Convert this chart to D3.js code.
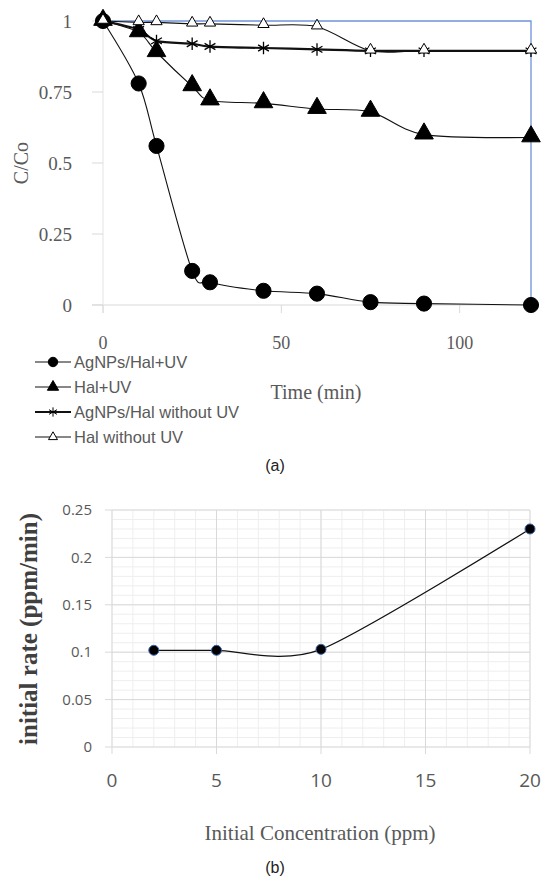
<!DOCTYPE html>
<html>
<head>
<meta charset="utf-8">
<script src="https://cdn.jsdelivr.net/npm/d3@7"></script>
<style>
  body { margin: 0; background: #fff; }
  svg { display: block; }
</style>
</head>
<body>
<svg id="chart" width="543" height="880"></svg>
<script>
// ---------------- chart (a) data ----------------
var timeMin = [0, 10, 15, 25, 30, 45, 60, 75, 90, 120];
var agHalUV = [1, 0.78, 0.56, 0.12, 0.08, 0.05, 0.04, 0.01, 0.005, 0.0];
var halUV = [1, 0.96, 0.89, 0.77, 0.72, 0.71, 0.69, 0.68, 0.60, 0.59];
var agHalNoUV = [1, 0.97, 0.93, 0.92, 0.91, 0.905, 0.90, 0.895, 0.895, 0.895];
var halNoUV = [1, 0.995, 0.995, 0.99, 0.99, 0.985, 0.98, 0.895, 0.895, 0.895];
var seriesNames = ["AgNPs/Hal+UV", "Hal+UV", "AgNPs/Hal without UV", "Hal without UV"];
var aYTicks = [0, 0.25, 0.5, 0.75, 1];
var aXTicks = [0, 50, 100];

// ---------------- chart (b) data ----------------
var concPpm = [2, 5, 10, 20];
var initRate = [0.102, 0.102, 0.103, 0.23];
var bXTicks = [0, 5, 10, 15, 20];
var bYTicks = [0, 0.05, 0.1, 0.15, 0.2, 0.25];

var svg = d3.select("#chart");
var serif = "'Liberation Serif', 'Times New Roman', serif";
var sans = "'Liberation Sans', Arial, sans-serif";
var gray = "#595959";

////////////////////////////////////////////////////////////////////////
// chart (a)
////////////////////////////////////////////////////////////////////////
var ax = d3.scaleLinear().domain([0, 120]).range([103, 531]);
var ay = d3.scaleLinear().domain([0, 1]).range([305, 21]);

var gA = svg.append("g");

// axes lines + ticks
gA.append("line").attr("x1", 92).attr("x2", ax(120)).attr("y1", ay(0)).attr("y2", ay(0))
  .attr("stroke", "#d9d9d9").attr("stroke-width", 1);
gA.append("line").attr("x1", ax(0)).attr("x2", ax(0)).attr("y1", ay(1)).attr("y2", ay(0) + 8)
  .attr("stroke", "#e3e3e3").attr("stroke-width", 1);
gA.selectAll(".ytk").data(aYTicks).join("line")
  .attr("x1", 92).attr("x2", ax(0)).attr("y1", d => ay(d)).attr("y2", d => ay(d))
  .attr("stroke", "#d9d9d9");
gA.selectAll(".xtk").data(aXTicks).join("line")
  .attr("x1", d => ax(d)).attr("x2", d => ax(d)).attr("y1", ay(0)).attr("y2", ay(0) + 8)
  .attr("stroke", "#d9d9d9");

// blue frame (top + right)
gA.append("path")
  .attr("d", "M" + ax(0) + "," + ay(1) + "H" + ax(120) + "V" + ay(0))
  .attr("fill", "none").attr("stroke", "#6f93d8").attr("stroke-width", 1.3);

// tick labels
gA.selectAll(".ylab").data(aYTicks).join("text")
  .attr("x", 72).attr("y", d => ay(d)).attr("dy", "0.35em")
  .attr("text-anchor", "end").attr("font-family", serif).attr("font-size", 19)
  .attr("fill", gray).text(d => d);
gA.selectAll(".xlab").data(aXTicks).join("text")
  .attr("x", d => ax(d)).attr("y", 343).attr("dy", "0.35em")
  .attr("text-anchor", "middle").attr("font-family", serif).attr("font-size", 18)
  .attr("fill", gray).text(d => d);

// axis titles
gA.append("text").attr("transform", "translate(21,163) rotate(-90)")
  .attr("text-anchor", "middle").attr("dy", "0.35em")
  .attr("font-family", serif).attr("font-size", 20).attr("fill", gray).text("C/Co");
gA.append("text").attr("x", 316).attr("y", 392).attr("dy", "0.35em")
  .attr("text-anchor", "middle").attr("font-family", serif).attr("font-size", 20)
  .attr("fill", gray).text("Time (min)");

// series
var aSeries = [
  {name: seriesNames[0], vals: agHalUV, sym: d3.symbolCircle, size: 180, lsize: 70, fill: "#000", lw: 1.1},
  {name: seriesNames[1], vals: halUV, sym: d3.symbolTriangle, size: 150, lsize: 55, fill: "#000", lw: 1.1},
  {name: seriesNames[2], vals: agHalNoUV, sym: d3.symbolAsterisk, size: 110, lsize: 60, fill: "none", lw: 2.2},
  {name: seriesNames[3], vals: halNoUV, sym: d3.symbolTriangle, size: 55, lsize: 35, fill: "#fff", lw: 1.1}
];

var lineA = d3.line()
  .x(function (d) { return ax(d[0]); })
  .y(function (d) { return ay(d[1]); })
  .curve(d3.curveCardinal.tension(0.1));

aSeries.forEach(function (s) {
  var pts = timeMin.map(function (t, i) { return [t, s.vals[i]]; });
  gA.append("path").datum(pts).attr("d", lineA)
    .attr("fill", "none").attr("stroke", "#111").attr("stroke-width", s.lw);
});

aSeries.forEach(function (s) {
  var pts = timeMin.map(function (t, i) { return [t, s.vals[i]]; });
  var isStar = s.sym === d3.symbolAsterisk;
  gA.selectAll(null).data(pts).join("path")
    .attr("d", d3.symbol(s.sym, s.size))
    .attr("transform", function (d) {
      var dy = s.sym === d3.symbolTriangle ? -1 : 0;
      return "translate(" + ax(d[0]) + "," + (ay(d[1]) + dy) + ")";
    })
    .attr("fill", isStar ? "none" : s.fill)
    .attr("stroke", "#000").attr("stroke-width", isStar ? 1.3 : 1);
});

// legend
var legY = [362, 387, 412, 437];
var legend = gA.selectAll(".leg").data(aSeries).join("g")
  .attr("transform", function (d, i) { return "translate(0," + legY[i] + ")"; });
legend.append("line").attr("x1", 35).attr("x2", 71).attr("y1", 0).attr("y2", 0)
  .attr("stroke", "#111").attr("stroke-width", function (d) { return d.lw; });
legend.append("path")
  .attr("d", function (d) { return d3.symbol(d.sym, d.lsize)(); })
  .attr("transform", "translate(53,0)")
  .attr("fill", function (d) { return d.sym === d3.symbolAsterisk ? "none" : d.fill; })
  .attr("stroke", "#000").attr("stroke-width", 1);
legend.append("text").attr("x", 74).attr("y", 0).attr("dy", "0.35em")
  .attr("font-family", sans).attr("font-size", 16.5).attr("fill", gray)
  .text(function (d) { return d.name; });

svg.append("text").attr("x", 275).attr("y", 465).attr("dy", "0.35em")
  .attr("text-anchor", "middle").attr("font-family", sans).attr("font-size", 16)
  .attr("fill", "#222").text("(a)");

////////////////////////////////////////////////////////////////////////
// chart (b)
////////////////////////////////////////////////////////////////////////
var bx = d3.scaleLinear().domain([0, 20]).range([112, 530]);
var by = d3.scaleLinear().domain([0, 0.25]).range([747, 510]);
var gB = svg.append("g");

// minor grid
gB.selectAll(".mx").data(d3.range(0, 21, 1)).join("line")
  .attr("x1", d => bx(d)).attr("x2", d => bx(d)).attr("y1", by(0.25)).attr("y2", by(0))
  .attr("stroke", "#eeeeee");
gB.selectAll(".my").data(d3.range(0, 26, 1).map(d => d / 100)).join("line")
  .attr("x1", bx(0)).attr("x2", bx(20)).attr("y1", d => by(d)).attr("y2", d => by(d))
  .attr("stroke", "#eeeeee");
// major grid
gB.selectAll(".Mx").data(bXTicks).join("line")
  .attr("x1", d => bx(d)).attr("x2", d => bx(d)).attr("y1", by(0.25)).attr("y2", by(0) + 7)
  .attr("stroke", "#d9d9d9");
gB.selectAll(".My").data(bYTicks).join("line")
  .attr("x1", bx(0) - 7).attr("x2", bx(20)).attr("y1", d => by(d)).attr("y2", d => by(d))
  .attr("stroke", "#d9d9d9");

gB.selectAll(".bylab").data(bYTicks).join("text")
  .attr("x", 92).attr("y", d => by(d)).attr("dy", "0.35em")
  .attr("text-anchor", "end").attr("font-family", "'Open Sans', sans-serif").attr("font-size", 15)
  .attr("fill", gray).text(d => d);
gB.selectAll(".bxlab").data(bXTicks).join("text")
  .attr("x", d => bx(d)).attr("y", 780).attr("dy", "0.35em")
  .attr("text-anchor", "middle").attr("font-family", "'Open Sans', sans-serif").attr("font-size", 19)
  .attr("fill", gray).text(d => d);

gB.append("text").attr("transform", "translate(28,629) rotate(-90)")
  .attr("text-anchor", "middle").attr("dy", "0.35em")
  .attr("font-family", serif).attr("font-weight", "bold").attr("font-size", 25)
  .attr("fill", "#404040").text("initial rate (ppm/min)");
gB.append("text").attr("x", 320).attr("y", 833).attr("dy", "0.35em")
  .attr("text-anchor", "middle").attr("font-family", serif).attr("font-size", 21)
  .attr("fill", gray).text("Initial Concentration (ppm)");

var bPts = concPpm.map(function (c, i) { return [c, initRate[i]]; });
gB.append("path").datum(bPts)
  .attr("d", d3.line().x(d => bx(d[0])).y(d => by(d[1])).curve(d3.curveCardinal.tension(0.25)))
  .attr("fill", "none").attr("stroke", "#111").attr("stroke-width", 1.3);
gB.selectAll(".pt").data(bPts).join("circle")
  .attr("cx", d => bx(d[0])).attr("cy", d => by(d[1])).attr("r", 5)
  .attr("fill", "#000").attr("stroke", "#3a64b0").attr("stroke-width", 1);

svg.append("text").attr("x", 275).attr("y", 867).attr("dy", "0.35em")
  .attr("text-anchor", "middle").attr("font-family", sans).attr("font-size", 16)
  .attr("fill", "#222").text("(b)");
</script>
</body>
</html>
